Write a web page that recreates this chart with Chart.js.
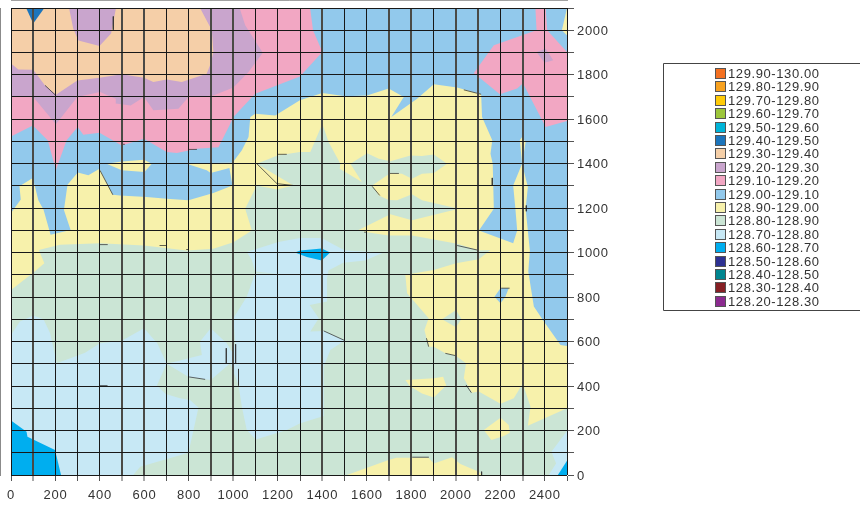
<!DOCTYPE html>
<html><head><meta charset="utf-8">
<style>html,body{margin:0;padding:0;background:#fff}#w{width:860px;height:505px}</style>
<script src="https://cdn.jsdelivr.net/npm/chart.js@4"></script></head>
<body><div id="w"><canvas id="c" width="860" height="505"></canvas></div>
<script>
const legendRanges=["129.90-130.00","129.80-129.90","129.70-129.80","129.60-129.70","129.50-129.60","129.40-129.50","129.30-129.40","129.20-129.30","129.10-129.20","129.00-129.10","128.90-129.00","128.80-128.90","128.70-128.80","128.60-128.70","128.50-128.60","128.40-128.50","128.30-128.40","128.20-128.30"];
const legendColors=["#F37021","#F7A11F","#FFCB08","#9DC63B","#00B4D8","#1C75BC","#F5CFA8","#C9A5CD","#F2A7C3","#92C9EC","#F7F1AB","#CBE5D5","#C7E8F5","#00AEEF","#2E3192","#00858F","#862024","#8B2A8F"];
const colorOf=r=>legendColors[legendRanges.indexOf(r)];
const softVerticals=[100,500,600,900,1000,1400,1700,1800,2000,2100,2300];

const yellowBase=[[0,0],[2500,0],[2500,2100],[0,2100]];
const blueMain=[[0,1178],[44,1239],[38,1298],[98,1335],[123,1235],[146,1194],[178,1080],[268,1102],[238,1192],[254,1305],[300,1360],[348,1348],[398,1377],[458,1260],[490,1257],[610,1250],[700,1242],[798,1235],[910,1268],[996,1302],[982,1380],[898,1358],[880,1370],[783,1402],[996,1404],[1038,1460],[1068,1520],[1076,1610],[1098,1625],[1188,1617],[1299,1685],[1400,1718],[1504,1703],[1601,1707],[1698,1738],[1766,1700],[1710,1610],[1826,1692],[1901,1757],[2006,1742],[2114,1712],[2118,1610],[2164,1505],[2156,1445],[2166,1400],[2171,1197],[2104,1100],[2258,1042],[2276,1100],[2268,1197],[2258,1302],[2298,1400],[2288,1505],[2298,1520],[2314,1497],[2298,1400],[2324,1295],[2314,1197],[2333,1010],[2326,915],[2351,758],[2396,690],[2471,585],[2500,580],[2500,2100],[0,2100]];
const yellowIslandTop=[[430,1400],[498,1410],[598,1418],[633,1400],[600,1362],[498,1370]];
const yellowCornerTop=[[2500,2100],[2477,2000],[2500,1977]];
const yellowSpeckTop=[[1994,2100],[2006,2100],[2000,2088]];
const pinkLeft=[[0,1522],[98,1572],[165,1505],[202,1372],[250,1505],[300,1565],[325,1530],[398,1539],[498,1482],[598,1512],[700,1452],[746,1448],[836,1467],[933,1474],[986,1580],[1000,1610],[1098,1714],[1299,1792],[1400,1902],[1358,2000],[1345,2100],[0,2100]];
const pinkRight=[[2358,2100],[2363,2000],[2171,1932],[2081,1808],[2198,1712],[2276,1738],[2302,1762],[2404,1565],[2500,1592],[2500,1902],[2411,2000],[2404,2100]];
const purpleSpeck=[[2363,1902],[2404,1917],[2438,1865],[2399,1854]];
const purpleLeft=[[0,1700],[100,1700],[202,1577],[298,1700],[400,1722],[471,1692],[471,1670],[538,1662],[598,1700],[640,1640],[753,1647],[798,1700],[910,1707],[1000,1742],[1068,1812],[1132,1899],[1053,2022],[1028,2100],[0,2100]];
const peachLeft=[[0,1850],[33,1824],[100,1822],[153,1752],[202,1710],[298,1774],[398,1786],[498,1802],[598,1786],[640,1767],[700,1778],[768,1767],[880,1804],[898,1850],[910,1902],[903,2000],[850,2100],[472,2100],[450,1985],[398,1929],[303,1954],[280,2007],[261,2100],[0,2100]];
const darkBlueTop=[[68,2100],[100,2030],[150,2100]];
const greenMain=[[0,832],[100,910],[150,952],[125,1012],[220,1035],[400,1042],[598,1032],[790,1010],[910,1017],[1000,1047],[1083,1100],[1053,1197],[1105,1302],[1196,1284],[1270,1302],[1105,1400],[1198,1437],[1299,1452],[1346,1452],[1400,1580],[1428,1497],[1481,1400],[1478,1377],[1578,1317],[1526,1400],[1601,1447],[1654,1422],[1706,1411],[1796,1437],[1848,1434],[1901,1441],[1961,1400],[1901,1358],[1848,1355],[1803,1332],[1758,1355],[1706,1358],[1624,1302],[1654,1257],[1698,1237],[1736,1235],[1803,1262],[1848,1235],[2013,1197],[1803,1145],[1706,1172],[1563,1102],[1601,1092],[1698,1077],[1803,1077],[2006,1040],[2104,1010],[2156,1012],[2103,970],[2001,952],[1901,922],[1773,900],[1781,817],[1878,705],[1859,652],[1878,577],[1901,577],[1953,547],[1998,537],[2046,502],[2036,435],[2073,370],[2103,375],[2201,320],[2261,345],[2301,412],[2336,307],[2324,222],[2500,300],[2500,0],[0,0]];
const yellowIslandA=[[1773,427],[1901,435],[1943,442],[1957,402],[1901,349],[1848,367],[1793,400]];
const yellowIslandB=[[1511,0],[1601,33],[1698,67],[1733,78],[1878,78],[1901,52],[1983,80],[2021,50],[2103,15],[2118,0]];
const yellowIslandC=[[2126,202],[2201,258],[2238,225],[2243,190],[2216,175],[2160,157]];
const greenIsland=[[1938,700],[2001,742],[2025,702],[2001,664]];
const blueIsland=[[2174,802],[2201,840],[2238,840],[2223,802],[2201,772]];
const lightBlueMain=[[0,630],[40,690],[100,717],[146,700],[176,637],[206,502],[333,550],[400,592],[498,604],[598,660],[658,592],[700,500],[858,540],[850,600],[898,660],[970,592],[993,555],[1008,592],[1000,705],[1060,802],[1098,907],[1196,904],[1098,915],[1083,967],[1060,1003],[1202,1048],[1300,1066],[1397,1066],[1450,1036],[1502,1010],[1675,1000],[1592,965],[1494,955],[1427,920],[1421,885],[1421,780],[1343,765],[1384,705],[1346,645],[1406,648],[1500,605],[1436,562],[1406,488],[1406,265],[1298,232],[1240,202],[1101,160],[1060,202],[1038,307],[1023,405],[986,502],[898,427],[801,440],[700,500],[656,402],[696,364],[760,345],[805,337],[843,303],[798,100],[581,37],[550,0],[0,0]];
const lightBlueCorner=[[2500,198],[2430,105],[2451,52],[2418,0],[2500,0]];
const cyanCorner=[[0,245],[70,195],[74,172],[198,112],[225,0],[0,0]];
const cyanRight=[[2500,64],[2459,0],[2500,0]];
const cyanSpot=[[1277,1000],[1300,1010],[1397,1018],[1435,1000],[1397,965],[1330,980]];

const strokeX=[500,512,null,798,836,null,1198,1240,null,460,460,null,398,435,null,668,698,null,788,798,null,153,198,null,1105,1196,1270,null,400,458,null,1702,1744,null,2164,2164,null,2317,2317,null,1624,1658,null,2036,2114,null,1588,1601,null,2006,2104,null,968,968,null,1010,1010,null,1023,1023,null,398,434,null,801,873,null,1406,1500,null,2204,2242,null,1804,1879,null,2116,2116,null,1953,1998,null,1868,1878,null,2046,2070];
const strokeY=[1487,1487,null,1464,1464,null,1442,1442,null,2062,2002,null,1036,1036,null,1032,1032,null,1014,1014,null,1752,1710,null,1400,1310,1302,null,1370,1260,null,1356,1356,null,1336,1302,null,1212,1186,null,1298,1257,null,1732,1712,null,1092,1092,null,1032,1010,null,570,502,null,588,502,null,477,402,null,402,402,null,441,430,null,648,605,null,840,840,null,80,80,null,15,0,null,547,537,null,615,577,null,405,370];

const layers=[
 [yellowBase,"128.90-129.00"],[blueMain,"129.00-129.10"],[yellowIslandTop,"128.90-129.00"],[yellowCornerTop,"128.90-129.00"],[yellowSpeckTop,"128.90-129.00"],
 [pinkLeft,"129.10-129.20"],[pinkRight,"129.10-129.20"],[purpleSpeck,"129.20-129.30"],[purpleLeft,"129.20-129.30"],[peachLeft,"129.30-129.40"],[darkBlueTop,"129.40-129.50"],
 [greenMain,"128.80-128.90"],[yellowIslandA,"128.90-129.00"],[yellowIslandB,"128.90-129.00"],[yellowIslandC,"128.90-129.00"],[greenIsland,"128.80-128.90"],[blueIsland,"129.00-129.10"],
 [lightBlueMain,"128.70-128.80"],[lightBlueCorner,"128.70-128.80"],[cyanCorner,"128.60-128.70"],[cyanRight,"128.60-128.70"],[cyanSpot,"128.60-128.70"]
];
const strokes=strokeX.map((x,i)=>({x,y:strokeY[i]}));
const datasets=[{data:strokes,showLine:true,spanGaps:false,borderColor:'rgba(50,50,50,.75)',borderWidth:1,pointRadius:0,fill:false}];
layers.slice().reverse().forEach(([poly,range])=>{
 datasets.push({data:poly.map(p=>({x:p[0],y:p[1]})),showLine:true,fill:'shape',backgroundColor:colorOf(range),borderWidth:0,borderColor:'transparent',pointRadius:0});
});
const boxLegend={id:'boxLegend',
 beforeDraw(c){c.ctx.letterSpacing='0.7px';},
 afterDraw(c){const x=c.ctx;x.save();
  x.strokeStyle='#444';x.lineWidth=1;x.beginPath();x.moveTo(870,63.5);x.lineTo(663.5,63.5);x.lineTo(663.5,310.5);x.lineTo(870,310.5);x.stroke();
  x.font='13px "Liberation Sans"';x.letterSpacing='0.6px';x.textBaseline='middle';x.textAlign='left';
  legendRanges.forEach((t,i)=>{const y=Math.round(69+i*13.4);
   x.fillStyle=legendColors[i];x.fillRect(716,y,9,9);x.strokeStyle='#555';x.strokeRect(715.5,y-.5,10,10);
   x.fillStyle='#333';x.fillText(t,728,y+5);});
  x.restore();}
};
const tickFont={family:'"Liberation Sans"',size:13};
const labelEvery200=v=>v%200===0?String(v):'';
const isSoft=ctx=>ctx.tick&&softVerticals.includes(ctx.tick.value);
new Chart(document.getElementById('c'),{type:'scatter',data:{datasets},plugins:[boxLegend],options:{
 responsive:false,animation:false,events:[],
 layout:{padding:{left:11,top:8,right:0,bottom:0}},
 plugins:{legend:{display:false},tooltip:{enabled:false}},
 scales:{
  x:{type:'linear',min:0,max:2500,position:'bottom',afterFit(s){s.height=30;s.paddingLeft=0;s.paddingRight=0;},
   grid:{color:ctx=>isSoft(ctx)?'#4a4a46':'#181818',lineWidth:ctx=>isSoft(ctx)?2:1,z:1,tickLength:6,tickColor:'#555',tickWidth:1},border:{color:'#444'},
   ticks:{stepSize:100,autoSkip:false,maxRotation:0,color:'#333',font:tickFont,padding:7,callback:labelEvery200}},
  y:{type:'linear',min:0,max:2100,position:'right',afterFit(s){s.width=293;s.paddingTop=0;s.paddingBottom=0;},
   grid:{color:'#181818',lineWidth:1,z:1,tickLength:7,tickColor:'#555'},border:{color:'#181818'},
   ticks:{stepSize:100,autoSkip:false,color:'#333',font:tickFont,padding:3,labelOffset:1,callback:labelEvery200}}
 }}});
</script></body></html>
